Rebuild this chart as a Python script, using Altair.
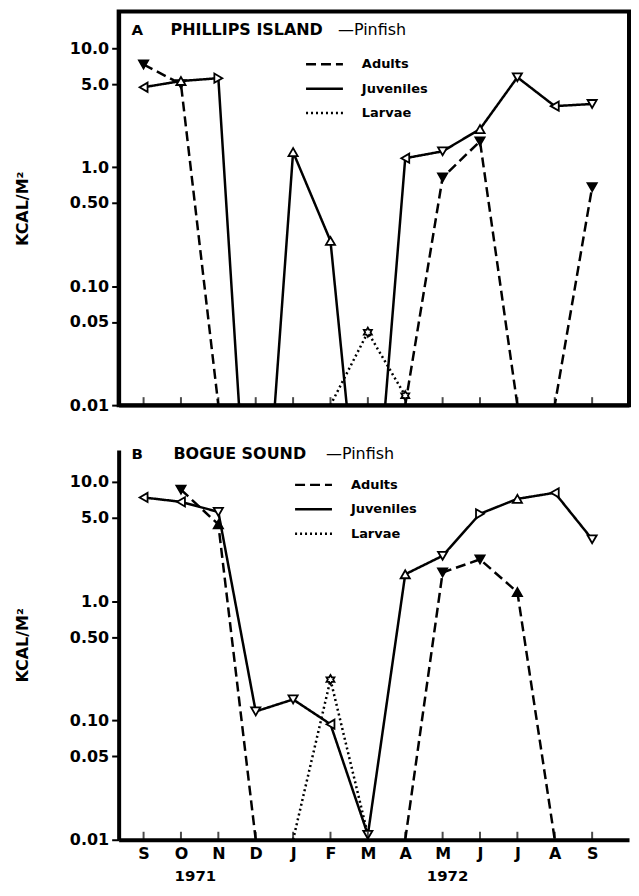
import json
import altair as alt
import pandas as pd

# ---------------- data ----------------
months = ["S", "O", "N", "D", "J", "F", "M", "A", "M", "J", "J", "A", "S"]
stages = ["Adults", "Juveniles", "Larvae"]

# Panel A - Phillips Island (KCAL/M2); values below 0.01 = "zero" (line runs off the axis)
a_adults = [7.3, 5.0, 0.01, None, None, None, None, 0.01, 0.82, 1.65, 0.01, 0.01, 0.68]
a_juveniles = [4.7, 5.3, 5.6, 0.00006, 1.34, 0.24, 0.00016, 1.19, 1.36, 2.09, 5.7, 3.26, 3.4]
a_larvae = [None, None, None, None, None, 0.01, 0.041, 0.012, None, None, None, None, None]

# Panel B - Bogue Sound
b_adults = [None, 8.6, 4.4, 0.01, None, None, None, 0.01, 1.74, 2.24, 1.19, 0.01, None]
b_juveniles = [7.4, 6.8, 5.6, 0.119, 0.15, 0.093, 0.011, 1.68, 2.4, 5.4, 7.2, 8.1, 3.3]
b_larvae = [None, None, None, None, 0.01, 0.22, 0.011, None, None, None, None, None, None]

STAR = ("M0,-1L0.289,-0.5L0.866,-0.5L0.577,0L0.866,0.5L0.289,0.5L0,1"
        "L-0.289,0.5L-0.866,0.5L-0.577,0L-0.866,-0.5L-0.289,-0.5Z")
TD, TU, TL, TR = "triangle-down", "triangle-up", "triangle-left", "triangle-right"

a_adult_marks = [TD, TD, None, None, None, None, None, None, TD, TD, None, None, TD]
a_juv_marks = [TL, TU, TR, None, TU, TU, None, TL, TD, TU, TD, TL, TD]
a_larv_marks = [None, None, None, None, None, None, STAR, STAR, None, None, None, None, None]

b_adult_marks = [None, TD, TU, None, None, None, None, None, TD, TD, TU, None, None]
b_juv_marks = [TL, TL, TD, TD, TD, TL, TD, TU, TD, TR, TU, TL, TD]
b_larv_marks = [None, None, None, None, None, STAR, None, None, None, None, None, None, None]

dashes = [[10, 5], [1, 0], [2, 3]]
FONT = "DejaVu Sans"
WIDTH = 512
XDOM = [-0.667, -0.667 + WIDTH / 37.5]


def build_df(adults, juveniles, larvae, am, jm, lm):
    rows = []
    for stage, vals, marks, fill in (("Adults", adults, am, "black"),
                                     ("Juveniles", juveniles, jm, "white"),
                                     ("Larvae", larvae, lm, "white")):
        for i, (v, s) in enumerate(zip(vals, marks)):
            rows.append({"m": i, "stage": stage, "value": v, "shape": s, "fill": fill})
    return pd.DataFrame(rows)


def panel(df, height, ymax, letter, name, name_dx, pin_dx, title_y,
          lx, ly0, show_labels, framed):
    xscale = alt.Scale(domain=XDOM, nice=False, zero=False)
    yscale = alt.Scale(type="log", domain=[0.01, ymax], nice=False)
    label_expr = json.dumps(months) + "[datum.value]"
    if show_labels:
        xaxis = alt.Axis(values=list(range(13)), labelExpr=label_expr, ticks=False,
                         grid=False, title=None, domainWidth=4, domainColor="black",
                         labelFontSize=16, labelFontWeight="bold", labelPadding=6,
                         labelColor="black", zindex=1)
    else:
        xaxis = alt.Axis(values=list(range(13)), labels=False, ticks=False, grid=False,
                         title=None, domainWidth=4, domainColor="black", zindex=1)
    yaxis = alt.Axis(values=[0.01, 0.05, 0.1, 0.5, 1, 5, 10],
                     labelExpr="datum.value >= 1 ? format(datum.value, '.1f') : format(datum.value, '.2f')",
                     grid=False, title="KCAL/M²", titleFontSize=16, titleFontWeight="bold",
                     titlePadding=39, titleColor="black",
                     labelFontSize=16, labelFontWeight="bold", labelColor="black",
                     tickSize=7, tickWidth=2, tickColor="black", labelPadding=3,
                     domainWidth=4, domainColor="black", zindex=1)

    base = alt.Chart(df)
    lines = base.mark_line(clip=True, strokeWidth=2.5, color="black").encode(
        x=alt.X("m:Q", scale=xscale, axis=xaxis),
        y=alt.Y("value:Q", scale=yscale, axis=yaxis),
        strokeDash=alt.StrokeDash("stage:N", scale=alt.Scale(domain=stages, range=dashes),
                                  legend=None),
        detail="stage:N",
    )
    pts = base.transform_filter("datum.shape != null").mark_point(
        filled=True, stroke="black", strokeWidth=1.8, size=85, opacity=1).encode(
        x=alt.X("m:Q", scale=xscale),
        y=alt.Y("value:Q", scale=yscale),
        shape=alt.Shape("shape:N", scale=None),
        fill=alt.Fill("fill:N", scale=None),
    )
    ticks = alt.Chart(pd.DataFrame({"m": list(range(13))})).mark_tick(
        color="black", thickness=2, size=8, orient="vertical").encode(
        x=alt.X("m:Q", scale=xscale), y=alt.value(height - 4))

    txt = []
    txt.append(alt.Chart(pd.DataFrame({"t": [letter]})).mark_text(
        align="left", font=FONT, fontSize=15, fontWeight="bold", color="black").encode(
        text="t:N", x=alt.value(13), y=alt.value(title_y)))
    txt.append(alt.Chart(pd.DataFrame({"t": [name]})).mark_text(
        align="left", font=FONT, fontSize=16, fontWeight="bold", color="black").encode(
        text="t:N", x=alt.value(name_dx), y=alt.value(title_y)))
    txt.append(alt.Chart(pd.DataFrame({"t": ["—Pinfish"]})).mark_text(
        align="left", font=FONT, fontSize=16, color="black").encode(
        text="t:N", x=alt.value(pin_dx), y=alt.value(title_y)))

    leg = []
    for i, st in enumerate(stages):
        yy = ly0 + 24.5 * i
        leg.append(alt.Chart(pd.DataFrame({"s": [st]})).mark_rule(
            color="black", strokeWidth=2.5, strokeDash=dashes[i]).encode(
            x=alt.value(lx), x2=alt.value(lx + 37), y=alt.value(yy)))
        leg.append(alt.Chart(pd.DataFrame({"s": [st]})).mark_text(
            align="left", baseline="middle", font=FONT, fontSize=13, fontWeight="bold",
            color="black").encode(text="s:N", x=alt.value(lx + 56), y=alt.value(yy)))

    layers = [lines, pts, ticks] + txt + leg
    if show_labels:
        for yr, xx in (("1971", 77), ("1972", 330)):
            layers.append(alt.Chart(pd.DataFrame({"t": [yr]})).mark_text(
                align="center", baseline="middle", font=FONT, fontSize=15,
                fontWeight="bold", color="black").encode(
                text="t:N", x=alt.value(xx), y=alt.value(height + 36)))

    view = (alt.ViewBackground(stroke="black", strokeWidth=4) if framed
            else alt.ViewBackground(strokeOpacity=0))
    return alt.layer(*layers).properties(width=WIDTH, height=height, view=view)


dfa = build_df(a_adults, a_juveniles, a_larvae, a_adult_marks, a_juv_marks, a_larv_marks)
dfb = build_df(b_adults, b_juveniles, b_larvae, b_adult_marks, b_juv_marks, b_larv_marks)

pa = panel(dfa, 395, 20.4, "A", "PHILLIPS ISLAND", 52, 220, 19, 188, 53, False, True)
pb = panel(dfb, 391, 18.5, "B", "BOGUE SOUND", 55, 208, 4, 177, 35, True, False)

chart = alt.vconcat(pa, pb, spacing=45, bounds="flush").properties(
    padding={"left": 4, "top": 0, "right": 0, "bottom": 0}
).configure_view(strokeWidth=0).configure(font=FONT)

chart.save("out.html", embed_options={"renderer": "svg", "actions": False})
